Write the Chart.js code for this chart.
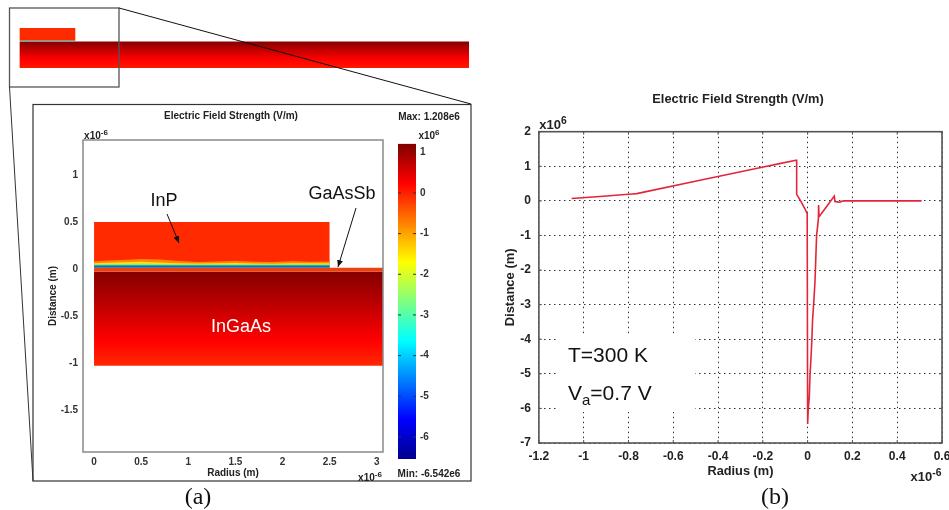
<!DOCTYPE html>
<html>
<head>
<meta charset="utf-8">
<title>Electric Field Strength</title>
<script src="https://cdn.jsdelivr.net/npm/chart.js@4"></script>
<style>
  html, body { margin: 0; padding: 0; background: #fff; overflow: hidden; }
  #page { position: relative; width: 949px; height: 510px; overflow: hidden; }
  canvas { position: absolute; }
  svg { position: absolute; left: 0; top: 0; }
  .t { position: absolute; white-space: nowrap; transform: translate(-50%, -50%); color: #222; font: bold 10px "Liberation Sans", sans-serif; }
  .t sup { font-size: 0.8em; line-height: 0; vertical-align: 0.4em; }
  .big { font: 18px "Liberation Sans", sans-serif; color: #111; }
  .cap { font: 24px "Liberation Serif", serif; color: #111; }
  .note { position: absolute; left: 558px; top: 335px; width: 137px; height: 77px; background: #fff; }
  .note div { position: absolute; left: 10px; white-space: nowrap; font: 21px "Liberation Sans", sans-serif; color: #111; line-height: 24px; }
  .note sub { font-size: 15px; line-height: 0; }
</style>
</head>
<body>
<div id="page">
  <canvas id="stripChart" width="480" height="60" style="left:0;top:20px"></canvas>
  <canvas id="insetChart" width="344" height="349" style="left:46px;top:130px"></canvas>
  <canvas id="barChart" width="44" height="330" style="left:396px;top:135px"></canvas>
  <canvas id="lineChart" width="449" height="400" style="left:500px;top:80px"></canvas>

  <svg width="949" height="510">
    <defs>
      <marker id="head" markerWidth="8" markerHeight="8" refX="7" refY="3" orient="auto">
        <path d="M0,0 L7,3 L0,6 Z" fill="#111"></path>
      </marker>
    </defs>
    <rect x="9.5" y="8" width="109.5" height="79" fill="none" stroke="#555" stroke-width="1.3"></rect>
    <line x1="119" y1="8" x2="471" y2="104" stroke="#111" stroke-width="1"></line>
    <line x1="9.5" y1="87" x2="33" y2="481" stroke="#333" stroke-width="1"></line>
    <rect x="33" y="104.5" width="438" height="376.5" fill="none" stroke="#333" stroke-width="1.2"></rect>
    <line x1="167" y1="214" x2="179" y2="243" stroke="#111" stroke-width="1" marker-end="url(#head)"></line>
    <line x1="356" y1="208" x2="338" y2="267" stroke="#111" stroke-width="1" marker-end="url(#head)"></line>
  </svg>

  <div class="t" style="left:231px;top:115px">Electric Field Strength (V/m)</div>
  <div class="t" style="left:429px;top:116px">Max: 1.208e6</div>
  <div class="t" style="left:96px;top:135px">x10<sup>-6</sup></div>
  <div class="t" style="left:429px;top:135px">x10<sup>6</sup></div>
  <div class="t" style="left:429px;top:473px">Min: -6.542e6</div>
  <div class="t" style="left:370px;top:477px">x10<sup>-6</sup></div>
  <div class="t big" style="left:164px;top:200px">InP</div>
  <div class="t big" style="left:342px;top:193px">GaAsSb</div>
  <div class="t big" style="left:241px;top:326px;color:#fff">InGaAs</div>

  <div class="t" style="left:738px;top:98px;font-size:12.8px">Electric Field Strength (V/m)</div>
  <div class="t" style="left:553px;top:124px;font-size:13px">x10<sup>6</sup></div>
  <div class="t" style="left:926px;top:476px;font-size:13px">x10<sup>-6</sup></div>
  <div class="note">
    <div style="top:8px">T=300 K</div>
    <div style="top:46px">V<sub>a</sub>=0.7 V</div>
  </div>

  <div class="t cap" style="left:198px;top:496px">(a)</div>
  <div class="t cap" style="left:775px;top:496px">(b)</div>
</div>

<script>
// panel (b), line plot. radius in 1e-6 m, field in 1e6 V/m
const lineRadius = [-1.054, -0.8, -0.763, -0.198, -0.052, -0.049, -0.049, -0.027, -0.002, 0, 0.003, 0.0075, 0.0104, 0.0149, 0.019, 0.022, 0.028, 0.033, 0.04, 0.048, 0.049, 0.051, 0.119, 0.122, 0.144, 0.159, 0.509];
const lineField = [0.067, 0.19, 0.21, 0.98, 1.175, 1.175, 0.19, -0.05, -0.36, -6.45, -6, -5.67, -5.07, -4.55, -4, -3.44, -2.87, -2.31, -1, -0.53, -0.12, -0.46, 0.14, -0.02, -0.04, 0, 0];

// panel (a), device layers. radius and distance in 1e-6 m
const inpRadius = [0, 2.5];
const inpTop = [0.5, 0.5];
const capRadius = [0, 3.07];
const capTop = [0.014, 0.014];
const substrateRadius = [0, 3.07];
const substrateTop = [-0.03, -0.03];
const substrateBottom = -1.03;

// wavy edge of the depletion bands under the InP
const bandRadius = [0, 0.15, 0.3, 0.5, 0.7, 0.9, 1.1, 1.3, 1.5, 1.7, 1.9, 2.1, 2.3, 2.5];
const bandOrange = [0.08, 0.09, 0.095, 0.105, 0.1, 0.085, 0.075, 0.08, 0.085, 0.078, 0.075, 0.082, 0.078, 0.08];
const bandYellow = [0.06, 0.065, 0.072, 0.078, 0.07, 0.062, 0.058, 0.06, 0.064, 0.058, 0.056, 0.062, 0.06, 0.06];
const bandGreen = [0.05, 0.052, 0.054, 0.055, 0.053, 0.05, 0.05, 0.05, 0.051, 0.05, 0.05, 0.05, 0.05, 0.05];
const bandTeal = [0.042, 0.042, 0.042, 0.042, 0.042, 0.042, 0.042, 0.042, 0.042, 0.042, 0.042, 0.042, 0.042, 0.042];
const bandBlue = [0.032, 0.032, 0.032, 0.032, 0.032, 0.032, 0.032, 0.032, 0.032, 0.032, 0.032, 0.032, 0.032, 0.032];
const bandFloor = 0.016;

// overview strip on top
const stripRadius = [0, 20];
const stripBottom = -1.05;
const stripTop = [-0.02, -0.02];
const stripLayer = [0.03, 0.03];

// colour bar
const fieldMin = -6.542;
const fieldMax = 1.208;
const jetStops = [[1.208, "#800000"], [0.24, "#ff0000"], [-1.7, "#ffff00"], [-3.63, "#00ffff"], [-5.57, "#0000ff"], [-6.542, "#00008f"]];
const substrateStops = [[-0.03, "#850000"], [-0.33, "#b40000"], [-0.76, "#ff0000"], [-1.03, "#ff2800"]];

const FONT = "'Liberation Sans', sans-serif";
const AXIS_FONT = { family: FONT, weight: "bold", size: 10 };

function points(xs, ys) {
  return xs.map((x, i) => ({ x: x, y: ys[i] }));
}

// no overhang from the tick labels, keeps the plot box where it was measured
function noOverhang(s) {
  s.paddingLeft = 0;
  s.paddingRight = 0;
  s.paddingTop = 0;
  s.paddingBottom = 0;
}

// vertical gradient whose stops are given in y axis values
function fade(stops) {
  return (c) => {
    const chart = c.chart;
    if (!chart.chartArea) return stops[0][1];
    const y = chart.scales.y;
    const from = y.getPixelForValue(stops[0][0]);
    const to = y.getPixelForValue(stops[stops.length - 1][0]);
    const g = chart.ctx.createLinearGradient(0, from, 0, to);
    stops.forEach((s) => g.addColorStop((y.getPixelForValue(s[0]) - from) / (to - from), s[1]));
    return g;
  };
}

function layer(xs, ys, floor, colour) {
  return {
    data: points(xs, ys),
    fill: { value: floor },
    backgroundColor: colour,
    borderWidth: 0,
    pointRadius: 0,
    tension: 0,
  };
}

// plot box and small inner tick marks
const framePlugin = {
  id: "frame",
  afterDraw(chart, args, opts) {
    const a = chart.chartArea;
    const c = chart.ctx;
    c.save();
    c.strokeStyle = opts.color;
    c.lineWidth = opts.width;
    if (opts.width) c.strokeRect(a.left, a.top, a.right - a.left, a.bottom - a.top);
    c.lineWidth = 1;
    if (opts.tick) {
      const sx = chart.scales.x;
      const sy = chart.scales.y;
      c.beginPath();
      if (sx.options.display) {
        sx.ticks.forEach((t) => {
          const p = sx.getPixelForValue(t.value);
          c.moveTo(p, a.top); c.lineTo(p, a.top + opts.tick);
          c.moveTo(p, a.bottom); c.lineTo(p, a.bottom - opts.tick);
        });
      }
      sy.ticks.forEach((t) => {
        const p = sy.getPixelForValue(t.value);
        c.moveTo(a.left, p); c.lineTo(a.left + opts.tick, p);
        c.moveTo(a.right, p); c.lineTo(a.right - opts.tick, p);
      });
      c.stroke();
    }
    c.restore();
  },
};

const base = {
  responsive: false,
  animation: false,
  events: [],
  plugins: { legend: { display: false }, tooltip: { enabled: false } },
};

// overview strip
new Chart(document.getElementById("stripChart"), {
  type: "line",
  data: {
    datasets: [
      layer(inpRadius.slice(), stripLayer, 0, "#3f9f6f"),
      layer(inpRadius, inpTop, 0.03, "#ff2a00"),
      layer(stripRadius, stripTop, stripBottom, fade([[-0.02, "#850000"], [-0.35, "#c00000"], [-0.7, "#ff0000"], [-1.05, "#ff1800"]])),
    ],
  },
  plugins: [framePlugin],
  options: {
    ...base,
    layout: { padding: { left: 19.3, right: 10.7, top: 8, bottom: 12 } },
    scales: {
      x: { type: "linear", display: false, min: 0, max: 20 },
      y: { display: false, min: -1.05, max: 0.5 },
    },
    plugins: { ...base.plugins, frame: { color: "#fff", width: 0 } },
  },
});

// panel (a)
new Chart(document.getElementById("insetChart"), {
  type: "line",
  data: {
    datasets: [
      layer(bandRadius, bandBlue, bandFloor, "#1a5fc8"),
      layer(bandRadius, bandTeal, bandFloor, "#12b5b5"),
      layer(bandRadius, bandGreen, bandFloor, "#9fe060"),
      layer(bandRadius, bandYellow, bandFloor, "#f8e020"),
      layer(bandRadius, bandOrange, bandFloor, "#ff8a00"),
      layer(inpRadius, inpTop, bandFloor, "#ff2a00"),
      layer(capRadius, capTop, -0.03, "#ea4212"),
      layer(substrateRadius, substrateTop, substrateBottom, fade(substrateStops)),
    ],
  },
  plugins: [framePlugin],
  options: {
    ...base,
    layout: { padding: { top: 10, right: 7 } },
    scales: {
      x: {
        type: "linear",
        min: -0.117,
        max: 3.065,
        grid: { display: false, drawTicks: false },
        border: { display: false },
        ticks: { stepSize: 0.5, includeBounds: false, maxRotation: 0, padding: 4, color: "#333", font: AXIS_FONT, callback: (v) => String(v) },
        title: { display: true, text: "Radius (m)", color: "#222", font: AXIS_FONT, padding: 0 },
        afterFit: (s) => { s.height = 27; noOverhang(s); },
      },
      y: {
        min: -1.947,
        max: 1.372,
        grid: { display: false, drawTicks: false },
        border: { display: false },
        ticks: { stepSize: 0.5, includeBounds: false, padding: 5, color: "#333", font: AXIS_FONT, callback: (v) => String(v) },
        title: { display: true, text: "Distance (m)", color: "#222", font: AXIS_FONT, padding: { top: 1, bottom: 0 } },
        afterFit: (s) => { s.width = 37; noOverhang(s); },
      },
    },
    plugins: { ...base.plugins, frame: { color: "#8a8a8a", width: 1.5 } },
  },
});

// colour bar
new Chart(document.getElementById("barChart"), {
  type: "bar",
  data: {
    labels: ["field"],
    datasets: [{
      data: [[fieldMin, fieldMax]],
      backgroundColor: fade(jetStops),
      barPercentage: 1,
      categoryPercentage: 1,
      borderWidth: 0,
    }],
  },
  plugins: [framePlugin],
  options: {
    ...base,
    layout: { padding: { left: 2, top: 8.8, bottom: 6 } },
    scales: {
      x: { display: false },
      y: {
        position: "right",
        min: fieldMin,
        max: fieldMax,
        grid: { display: false, drawTicks: false },
        border: { display: false },
        ticks: { stepSize: 1, includeBounds: false, padding: 4, color: "#333", font: AXIS_FONT, callback: (v) => String(v) },
        afterFit: (s) => { s.width = 24; noOverhang(s); },
      },
    },
    plugins: { ...base.plugins, frame: { color: "#333", width: 0, tick: 3 } },
  },
});

// panel (b)
new Chart(document.getElementById("lineChart"), {
  type: "line",
  data: {
    datasets: [{
      data: points(lineRadius, lineField),
      borderColor: "#e2263a",
      borderWidth: 1.6,
      pointRadius: 0,
      // a zero tension switches on the fast path, which swallows the narrow spike
      tension: 0.001,
      fill: false,
    }],
  },
  plugins: [framePlugin],
  options: {
    ...base,
    layout: { padding: { top: 51.7, right: 7 } },
    scales: {
      x: {
        type: "linear",
        min: -1.2,
        max: 0.6,
        grid: { color: "#333", lineWidth: 1, drawTicks: false },
        border: { display: false, dash: [1.5, 3.5] },
        ticks: { stepSize: 0.2, maxRotation: 0, autoSkip: false, padding: 6, color: "#222", font: { family: FONT, weight: "bold", size: 12 }, callback: (v) => String(Math.round(v * 10) / 10) },
        title: { display: true, text: "Radius (m)", color: "#222", font: { family: FONT, weight: "bold", size: 12.8 }, padding: { top: 0, bottom: 1 } },
        afterFit: (s) => { s.height = 37; noOverhang(s); },
      },
      y: {
        min: -7,
        max: 2,
        grid: { color: "#333", lineWidth: 1, drawTicks: false },
        border: { display: false, dash: [1.5, 3.5] },
        ticks: { stepSize: 1, padding: 8, color: "#222", font: { family: FONT, weight: "bold", size: 12 }, callback: (v) => String(v) },
        title: { display: true, text: "Distance (m)", color: "#222", font: { family: FONT, weight: "bold", size: 13 }, padding: { top: 2.5, bottom: 0 } },
        afterFit: (s) => { s.width = 38.9; noOverhang(s); },
      },
    },
    plugins: { ...base.plugins, frame: { color: "#555", width: 1.6, tick: 3 } },
  },
});
</script>
</body>
</html>
